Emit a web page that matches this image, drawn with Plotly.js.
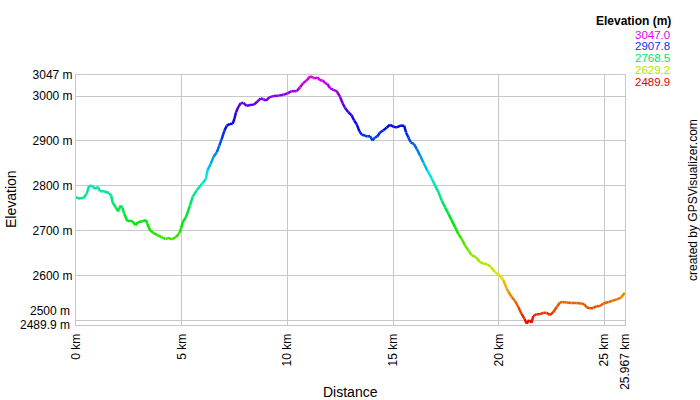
<!DOCTYPE html>
<html>
<head>
<meta charset="utf-8">
<script src="https://cdn.plot.ly/plotly-3.0.1.min.js"></script>
<style>html,body{margin:0;padding:0;background:#fff;}#chart{width:700px;height:400px;}</style>
</head>
<body>
<div id="chart"></div>
<script>
// Distance along track (km)
const distKm = [0, 0.1, 0.35, 0.5, 0.62, 0.77, 0.9, 1.04, 1.13, 1.32, 1.56, 1.67, 1.72, 1.88, 1.99, 2.11, 2.19, 2.27, 2.43, 2.59, 2.71, 2.82, 2.93, 3.14, 3.3, 3.37, 3.5, 3.66, 3.85, 4.04, 4.24, 4.35, 4.56, 4.72, 4.87, 4.97, 5.05, 5.2, 5.39, 5.52, 5.71, 5.95, 6.15, 6.21, 6.37, 6.5, 6.66, 6.78, 6.89, 7.02, 7.13, 7.28, 7.41, 7.49, 7.57, 7.68, 7.79, 7.92, 8.07, 8.23, 8.42, 8.58, 8.74, 8.86, 8.99, 9.14, 9.33, 9.57, 9.81, 10.0, 10.2, 10.44, 10.6, 10.75, 10.91, 11.07, 11.2, 11.3, 11.41, 11.54, 11.67, 11.78, 11.89, 12.01, 12.17, 12.33, 12.49, 12.61, 12.72, 12.88, 13.04, 13.15, 13.28, 13.4, 13.51, 13.67, 13.78, 13.91, 14.03, 14.14, 14.25, 14.38, 14.54, 14.7, 14.85, 15.01, 15.17, 15.33, 15.52, 15.61, 15.72, 15.83, 15.99, 16.12, 16.27, 16.43, 16.62, 16.83, 16.98, 17.14, 17.3, 17.46, 17.61, 17.77, 17.93, 18.08, 18.24, 18.4, 18.56, 18.72, 18.92, 19.11, 19.27, 19.46, 19.62, 19.82, 20.02, 20.21, 20.37, 20.45, 20.61, 20.76, 20.92, 21.08, 21.21, 21.32, 21.43, 21.55, 21.63, 21.79, 21.95, 22.1, 22.26, 22.42, 22.58, 22.74, 22.89, 23.0, 23.21, 23.44, 23.68, 23.89, 24.04, 24.16, 24.31, 24.47, 24.63, 24.78, 24.94, 25.18, 25.37, 25.58, 25.78, 25.94, 25.967];
// Elevation (m)
const elevM = [2775, 2772, 2773, 2782, 2800, 2800, 2793, 2798, 2788, 2788, 2784, 2778, 2764, 2752, 2743, 2756, 2752, 2739, 2721, 2723, 2719, 2712, 2719, 2721, 2724, 2716, 2701, 2695, 2690, 2686, 2681, 2684, 2681, 2686, 2693, 2705, 2719, 2730, 2756, 2776, 2790, 2804, 2816, 2834, 2849, 2864, 2875, 2890, 2904, 2923, 2934, 2938, 2938, 2949, 2964, 2976, 2984, 2985, 2978, 2980, 2981, 2988, 2995, 2993, 2990, 2997, 3000, 3001, 3003, 3006, 3011, 3011, 3020, 3029, 3035, 3044, 3042, 3039, 3042, 3035, 3035, 3029, 3027, 3018, 3014, 3011, 2998, 2984, 2974, 2964, 2957, 2946, 2937, 2922, 2914, 2912, 2910, 2911, 2901, 2908, 2910, 2919, 2924, 2930, 2936, 2932, 2930, 2934, 2934, 2919, 2908, 2897, 2893, 2882, 2868, 2852, 2834, 2816, 2801, 2786, 2767, 2752, 2738, 2723, 2708, 2693, 2682, 2667, 2656, 2645, 2641, 2630, 2627, 2625, 2619, 2608, 2601, 2590, 2571, 2564, 2552, 2544, 2530, 2514, 2504, 2493, 2501, 2495, 2510, 2514, 2514, 2517, 2517, 2512, 2519, 2530, 2540, 2541, 2540, 2539, 2539, 2538, 2536, 2529, 2527, 2528, 2532, 2532, 2538, 2541, 2544, 2547, 2551, 2561, 2562];

const elevMin = 2489.9;
const elevMax = 3047.0;
const legendValues = ["3047.0", "2907.8", "2768.5", "2629.2", "2489.9"];
const yTickVals = [2489.9, 2500, 2600, 2700, 2800, 2900, 3000, 3047];
const yTickText = ["2489.9 m", "2500 m", "2600 m", "2700 m", "2800 m", "2900 m", "3000 m", "3047 m"];
const xTickVals = [0, 5, 10, 15, 20, 25, 25.967];
const xTickText = ["0 km", "5 km", "10 km", "15 km", "20 km", "25 km", "25.967 km"];

const FONT = 'Liberation Sans, Arial, sans-serif';

function colorFor(e) {
  let f = (e - elevMin) / (elevMax - elevMin);
  f = Math.max(0, Math.min(1, f));
  const h = 300 * f;
  return 'hsl(' + h.toFixed(1) + ',100%,45%)';
}

const traces = [];
for (let i = 0; i < distKm.length - 1; i++) {
  traces.push({
    x: [distKm[i], distKm[i + 1]],
    y: [elevM[i], elevM[i + 1]],
    type: 'scatter',
    mode: 'lines',
    line: {color: colorFor((elevM[i] + elevM[i + 1]) / 2), width: 2.5},
    hoverinfo: 'skip',
    showlegend: false
  });
}

const W = 700, H = 400, L = 76, R = 75, T = 75, B = 75;
const pw = W - L - R, ph = H - T - B;
function px(xp) { return (xp - L) / pw; }
function py(yp) { return (H - B - yp) / ph; }

function ann(text, xp, yp, opts) {
  return Object.assign({
    text: text, x: px(xp), y: py(yp), xref: 'paper', yref: 'paper',
    showarrow: false, xanchor: 'center', yanchor: 'middle',
    font: {size: 12, color: '#000', family: FONT}
  }, opts || {});
}

// The two lowest y tick labels are nudged apart (as in the reference), so draw them as text
const shownYTickText = yTickText.map((t, i) => (i < 2 ? '' : t));

const annotations = [
  ann('Elevation (m)', 673, 21, {xanchor: 'right', font: {size: 12, color: '#000', family: FONT, weight: 'bold'}}),
  ann('created by GPSVisualizer.com', 693, 200, {textangle: -90}),
  ann('Elevation', 11, 199, {textangle: -90, font: {size: 14, color: '#000', family: FONT}}),
  ann('Distance', 350, 392, {font: {size: 14, color: '#000', family: FONT}}),
  ann(yTickText[1], 72, 311, {xanchor: 'right', height: 12}),
  ann(yTickText[0], 72, 324.5, {xanchor: 'right', height: 12})
];

const legendY = [35, 46.5, 58, 70, 81.5];
legendValues.forEach((v, i) => {
  annotations.push(ann(v, 672, legendY[i], {
    xanchor: 'right',
    font: {size: 11.5, color: colorFor(parseFloat(v)), family: FONT}
  }));
});

const layout = {
  width: W, height: H,
  margin: {l: L, r: R, t: T, b: B, pad: 0},
  paper_bgcolor: '#fff', plot_bgcolor: '#fff',
  showlegend: false,
  font: {family: FONT, size: 12, color: '#000'},
  xaxis: {
    range: [0, 25.967], tickvals: xTickVals, ticktext: xTickText, tickangle: -90,
    showgrid: true, gridcolor: '#c8c8c8', gridwidth: 1, zeroline: false,
    showline: true, linecolor: '#c8c8c8', linewidth: 1, mirror: true,
    ticks: '', ticklabelstandoff: 3, tickfont: {size: 12, color: '#000', family: FONT}, fixedrange: true
  },
  yaxis: {
    range: [elevMin, elevMax], tickvals: yTickVals, ticktext: shownYTickText,
    showgrid: true, gridcolor: '#c8c8c8', gridwidth: 1, zeroline: false,
    showline: true, linecolor: '#c8c8c8', linewidth: 1, mirror: true,
    ticks: '', tickfont: {size: 12, color: '#000', family: FONT}, fixedrange: true
  },
  annotations: annotations
};

Plotly.newPlot('chart', traces, layout, {displayModeBar: false, staticPlot: true});
</script>
</body>
</html>
